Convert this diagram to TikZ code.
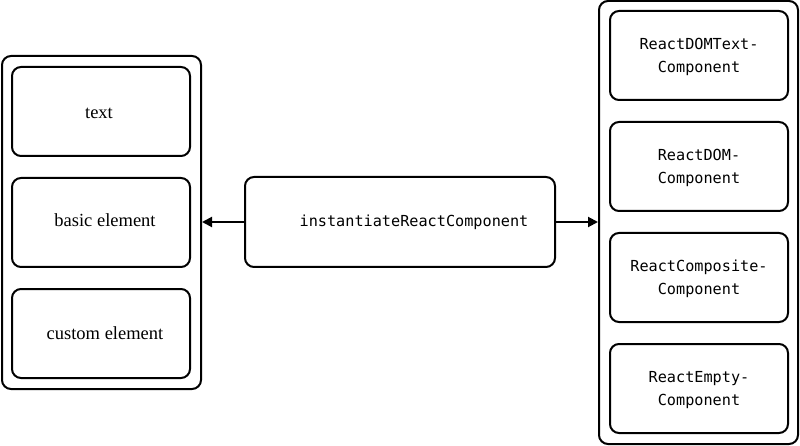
\documentclass[tikz,border=0pt]{standalone}
\usepackage{fontspec}
\setmainfont{Liberation Serif}
\setmonofont{DejaVu Sans Mono}
\usetikzlibrary{arrows.meta}
\begin{document}
\begin{tikzpicture}[x=1pt,y=-1pt,
  box/.style={draw,line width=2pt,rounded corners=9pt},
  inbox/.style={draw,line width=2pt,rounded corners=9pt,minimum width=178pt,minimum height=89pt,inner sep=0pt},
  serif/.style={font=\fontsize{18.5}{20}\selectfont},
  mono/.style={font=\fontsize{15.2}{23}\ttfamily,align=center},
  arr/.style={line width=2pt,-{Triangle[length=10pt,width=10pt]}}]
\useasboundingbox (0,0) rectangle (800,446);
\node[box,minimum width=199pt,minimum height=333pt,inner sep=0pt] (L) at (101.5,222.5) {};
\node[box,minimum width=199pt,minimum height=443pt,inner sep=0pt] (R) at (698.5,222.5) {};
\node[inbox] (t) at (101,111.5) {};
\node[serif] (tt) at (99,113) {text};
\node[inbox] (b) at (101,222.5) {};
\node[serif] (bt) at (105,220) {basic element};
\node[inbox] (c) at (101,333.5) {};
\node[serif] (ct) at (105,333) {custom element};
\node[inbox] (r1) at (699,55.5) {};
\node[mono] (r1t) at (699,57) {ReactDOMText-\\Component};
\node[inbox] (r2) at (699,166.5) {};
\node[mono] (r2t) at (699,168) {ReactDOM-\\Component};
\node[inbox] (r3) at (699,277.5) {};
\node[mono] (r3t) at (699,279) {ReactComposite-\\Component};
\node[inbox] (r4) at (699,388.5) {};
\node[mono] (r4t) at (699,390) {ReactEmpty-\\Component};
\node[box,minimum width=310pt,minimum height=90pt,inner sep=0pt] (m) at (400,222) {};
\node[font=\fontsize{15.2}{18}\ttfamily] (mt) at (414,222) {instantiateReactComponent};
\draw[arr] (m.west) -- (L.east |- m.west);
\draw[arr] (m.east) -- (R.west |- m.east);
\end{tikzpicture}
\end{document}
